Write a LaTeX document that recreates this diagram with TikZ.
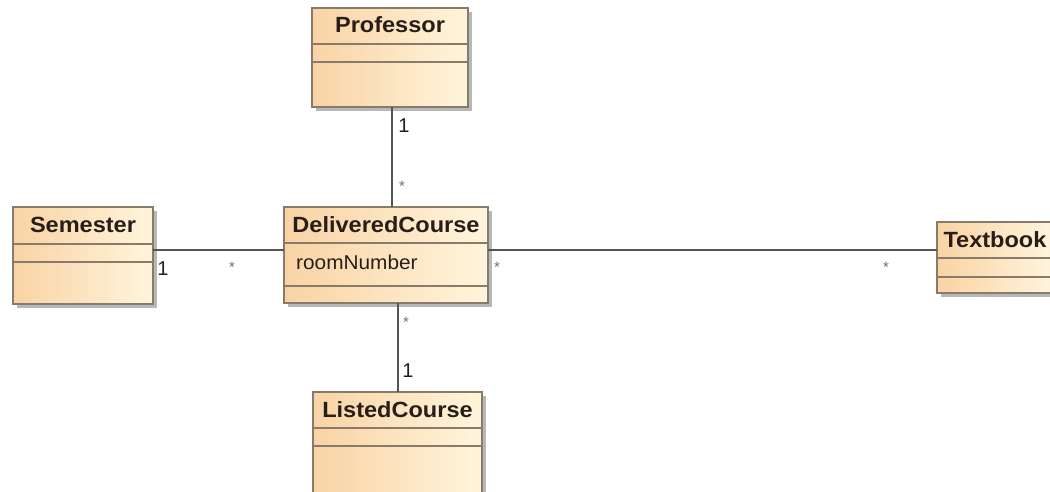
\documentclass[tikz,border=0pt]{standalone}
\usepackage{fontspec}
\setmainfont{Liberation Sans}
\usetikzlibrary{shadows}

\definecolor{classborder}{RGB}{135,124,108}
\definecolor{classlight}{RGB}{255,245,220}
\definecolor{classdark}{RGB}{249,211,164}
\definecolor{assocline}{RGB}{85,85,85}
\definecolor{multgray}{RGB}{110,110,110}
\definecolor{classtext}{RGB}{40,30,24}

% one UML class: name, x1, y1, x2, y2, first separator, second separator, title
\newcommand{\umlclass}[8]{%
  \node[classbox, minimum width=#4-#2, minimum height=#5-#3] (#1) at (#2,#3) {};
  \draw[compsep] (#2,#6) -- (#4,#6);
  \draw[compsep] (#2,#7) -- (#4,#7);
  \node[classname] (#1-title) at ({(#2+#4)/2},#3+25) {#8};
}

\begin{document}
\begin{tikzpicture}[x=1pt,y=-1pt,
  classbox/.style={draw=classborder, line width=1.2pt, rectangle, inner sep=0pt,
    outer sep=0pt, anchor=north west, left color=classdark, right color=classlight,
    drop shadow={shadow xshift=4pt, shadow yshift=-4pt, fill=black, opacity=0.28}},
  compsep/.style={draw=classborder, line width=1.2pt},
  classname/.style={font=\fontsize{22}{22}\selectfont\bfseries, text=classtext,
    anchor=base, inner sep=0pt, xscale=1.07},
  attr/.style={font=\fontsize{20}{20}\selectfont, anchor=base west, inner sep=0pt,
    text=classtext, xscale=1.04},
  assoc/.style={draw=assocline, line width=1.5pt},
  multone/.style={font=\fontsize{20}{20}\selectfont, inner sep=0pt, anchor=base,
    text=classtext},
  multmany/.style={font=\fontsize{15}{15}\selectfont, inner sep=0pt, anchor=base,
    text=multgray},
]
\clip (0,0) rectangle (1050,492);
\fill[white] (0,0) rectangle (1050,492);

% classes
\umlclass{prof}{312}{8}{468}{107}{44}{62}{Professor}
\umlclass{sem}{13}{207}{153}{304}{244}{262}{Semester}
\umlclass{dc}{284}{207}{488}{303}{243}{286}{DeliveredCourse}
\umlclass{tb}{937}{222}{1053}{293}{258}{277}{Textbook}
\umlclass{listed}{313}{392}{482}{496}{428}{446}{ListedCourse}
\node[attr] (dc-room) at (296,269) {roomNumber};

% associations
\coordinate (profport) at ([xshift=2pt]prof.south);
\draw[assoc] (profport) -- (profport |- dc.north);
\coordinate (semport) at ([yshift=5.5pt]sem.east);
\draw[assoc] (semport) -- (semport -| dc.west);
\coordinate (tbport) at ([yshift=7.5pt]tb.west);
\draw[assoc] (dc.east |- tbport) -- (tbport);
\coordinate (listport) at ([xshift=0.5pt]listed.north);
\draw[assoc] (dc.south -| listport) -- (listport);

% multiplicities
\node[multone] (m-prof) at (404,133) {1};
\node[multmany] (m-prof-dc) at (402,192) {*};
\node[multone] (m-sem) at (163,275) {1};
\node[multmany] (m-sem-dc) at (232,272) {*};
\node[multmany] (m-dc-tb) at (497,272) {*};
\node[multmany] (m-tb) at (886,272) {*};
\node[multmany] (m-dc-listed) at (406,327) {*};
\node[multone] (m-listed) at (408,377) {1};
\end{tikzpicture}
\end{document}
